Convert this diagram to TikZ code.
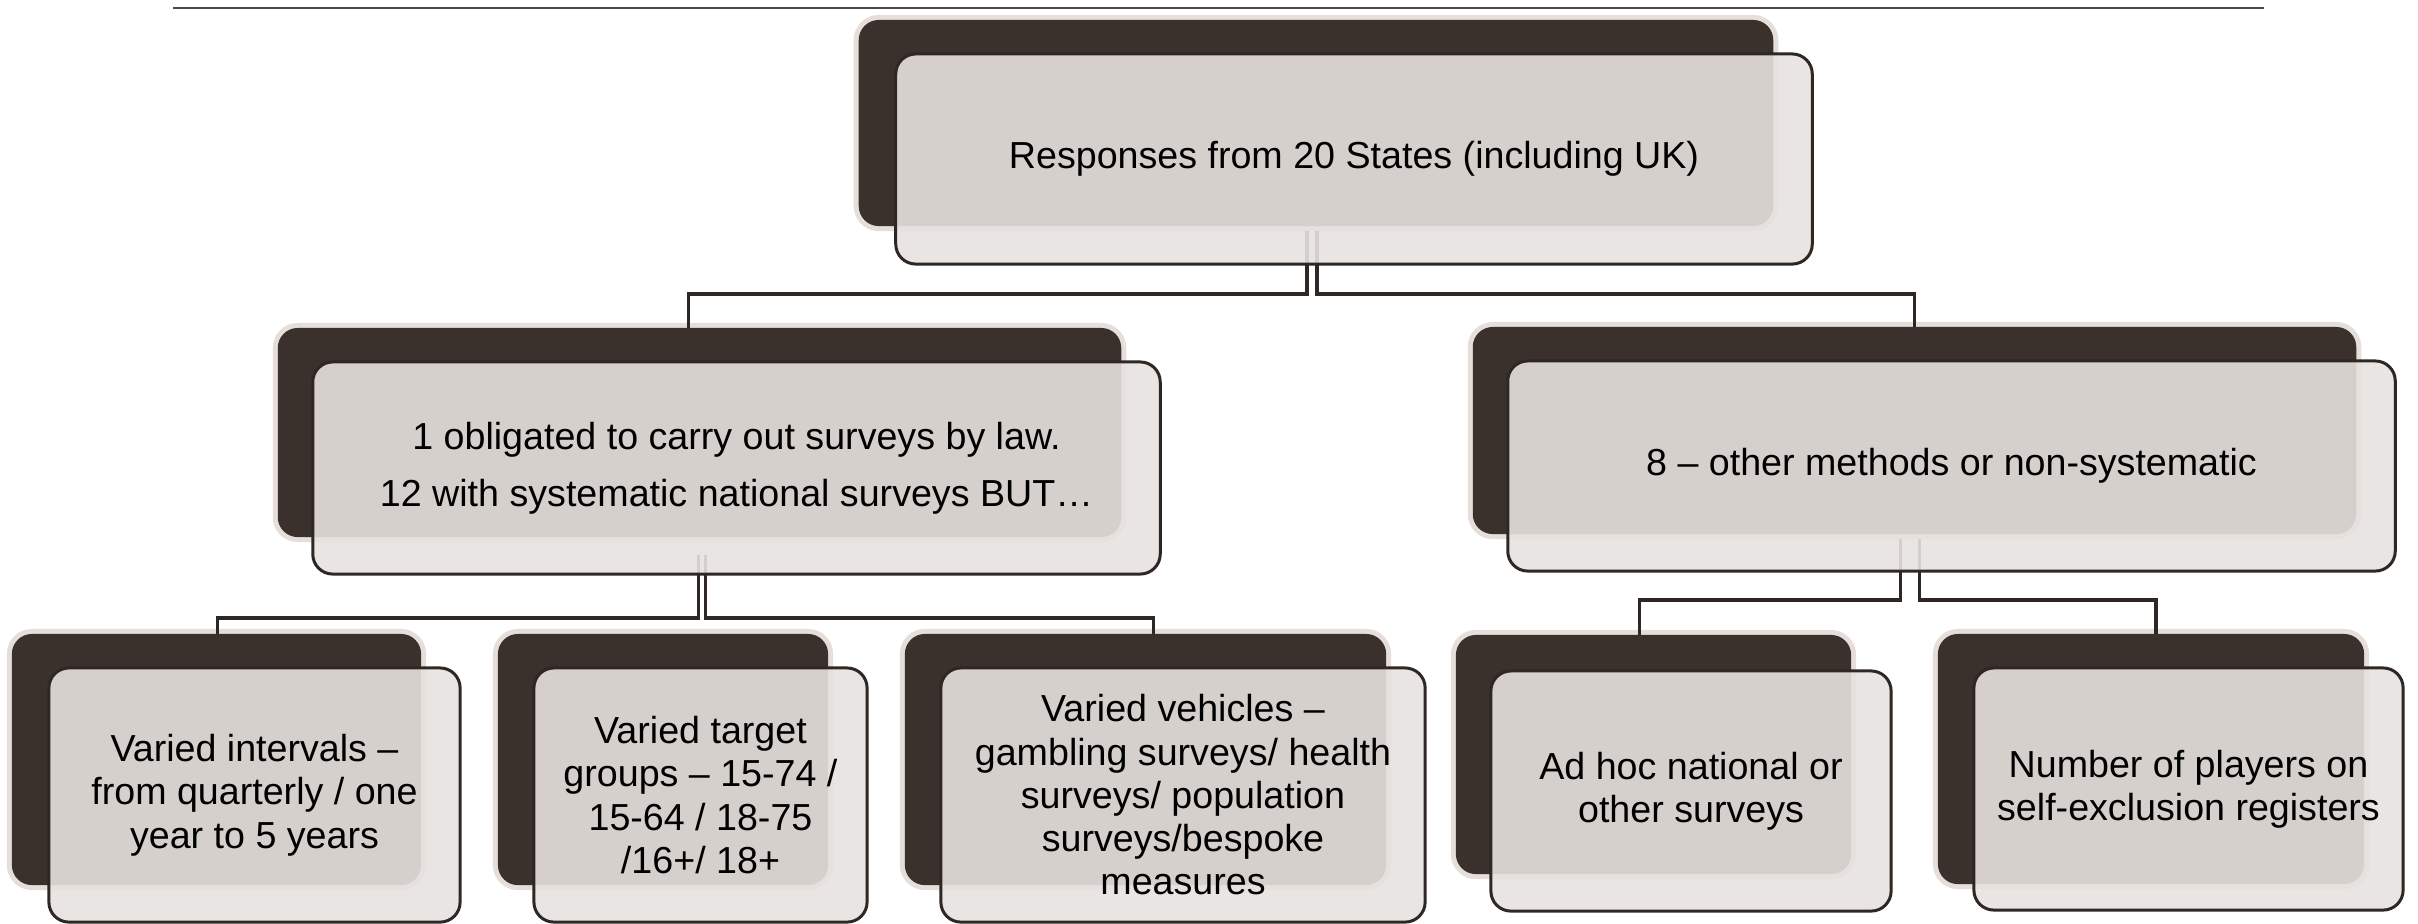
\documentclass[tikz,border=0pt]{standalone}
\usepackage{fontspec}
\setmainfont{Liberation Sans}
\usetikzlibrary{calc}
\definecolor{darkbrown}{HTML}{3A312C}
\definecolor{halo}{HTML}{E6DEDA}
\definecolor{frontfill}{HTML}{E7E2DF}
\definecolor{edge}{HTML}{2F2723}
\begin{document}
\begin{tikzpicture}[x=0.01cm,y=-0.01cm,
  darkbox/.style={fill=darkbrown, rounded corners=0.2cm, preaction={draw=halo, line width=0.1cm}, inner sep=0pt, outer sep=0pt},
  frontbox/.style={fill=frontfill, fill opacity=0.9, text opacity=1, draw=edge, line width=0.03cm, rounded corners=0.2cm, inner sep=0pt, outer sep=0pt, align=center, text=black, font=\fontsize{10.7}{12.3}\selectfont},
  conn/.style={draw=edge, line width=0.032cm},
  rule/.style={draw=edge!85, line width=0.022cm}]
\useasboundingbox (0,0) rectangle (2418,923);
% top rule
\coordinate (r1) at (173,8);
\coordinate (r2) at (2264,8);
\draw[rule] (r1) -- (r2);
% dark back boxes
\node[darkbox, minimum width=9.14cm, minimum height=2.06cm] (d0) at (1316,123) {};
\node[darkbox, minimum width=8.43cm, minimum height=2.09cm] (d1) at (699.5,432.5) {};
\node[darkbox, minimum width=8.83cm, minimum height=2.07cm] (d2) at (1914.5,430.5) {};
\node[darkbox, minimum width=4.09cm, minimum height=2.51cm] (b1) at (216.5,759.5) {};
\node[darkbox, minimum width=3.30cm, minimum height=2.51cm] (b2) at (663,759.5) {};
\node[darkbox, minimum width=4.81cm, minimum height=2.51cm] (b3) at (1145.5,759.5) {};
\node[darkbox, minimum width=3.95cm, minimum height=2.39cm] (b4) at (1653.5,754.5) {};
\node[darkbox, minimum width=4.26cm, minimum height=2.50cm] (b5) at (2151,759) {};
% connectors
\draw[conn] ($(d0.south)+(-9,5)$) |- ($(d1.north)+(-11,-34)$) -- ($(d1.north)+(-11,0)$);
\draw[conn] ($(d0.south)+(1,5)$) |- ($(d2.north)+(0,-33)$) -- (d2.north);
\draw[conn] ($(d1.south)+(-1,18)$) |- ($(b1.north)+(1,-16)$) -- ($(b1.north)+(1,0)$);
\draw[conn] ($(d1.south)+(6,18)$) |- ($(b3.north)+(8,-16)$) -- ($(b3.north)+(8,0)$);
\draw[conn] ($(d2.south)+(-14,5)$) |- ($(b4.north)+(-14,-35)$) -- ($(b4.north)+(-14,0)$);
\draw[conn] ($(d2.south)+(5,5)$) |- ($(b5.north)+(5,-34)$) -- ($(b5.north)+(5,0)$);
% front boxes with text
\node[frontbox, minimum width=9.16cm, minimum height=2.10cm] (f0) at (1354,159) {Responses from 20 States (including UK)};
\node[frontbox, minimum width=8.47cm, minimum height=2.12cm] (f1) at (736.5,468) {1 obligated to carry out surveys by law.\\[4pt]12 with systematic national surveys BUT…};
\node[frontbox, minimum width=8.87cm, minimum height=2.10cm] (f2) at (1951.5,466) {8 – other methods or non-systematic};
\node[frontbox, minimum width=4.11cm, minimum height=2.54cm] (g1) at (254.5,795) {Varied intervals –\\from quarterly / one\\year to 5 years};
\node[frontbox, minimum width=3.33cm, minimum height=2.54cm] (g2) at (700.5,795) {Varied target\\groups – 15-74 /\\15-64 / 18-75\\/16+/ 18+};
\node[frontbox, minimum width=4.84cm, minimum height=2.54cm] (g3) at (1183,795) {Varied vehicles –\\gambling surveys/ health\\surveys/ population\\surveys/bespoke\\measures};
\node[frontbox, minimum width=4.00cm, minimum height=2.40cm] (g4) at (1691,791) {Ad hoc national or\\other surveys};
\node[frontbox, minimum width=4.29cm, minimum height=2.42cm] (g5) at (2188.5,789) {Number of players on\\self-exclusion registers};
\end{tikzpicture}
\end{document}
